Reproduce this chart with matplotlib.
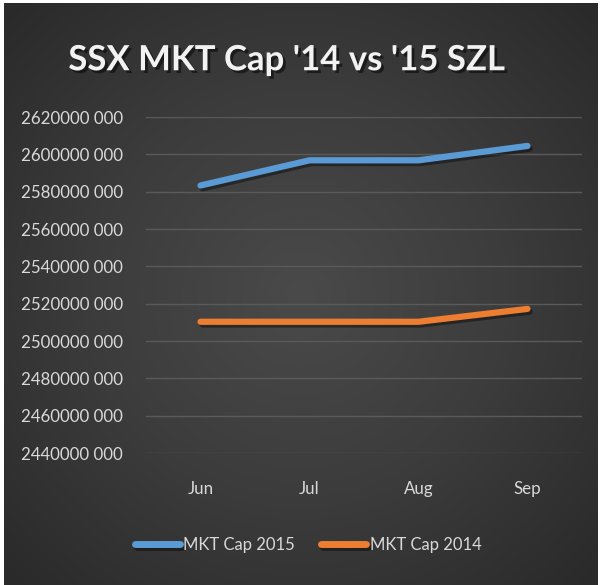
import numpy as np
import matplotlib
matplotlib.use("Agg")
import matplotlib.pyplot as plt
import matplotlib.patheffects as pe
from matplotlib.ticker import FuncFormatter

# chart data (values in SZL)
months = ["Jun", "Jul", "Aug", "Sep"]
cap_2015 = [2583300000, 2596800000, 2596800000, 2604500000]
cap_2014 = [2510300000, 2510300000, 2510300000, 2517200000]
series_names = ["MKT Cap 2015", "MKT Cap 2014"]
y_ticks = list(range(2440000000, 2620000001, 20000000))

FONT = ["Lato", "DejaVu Sans"]
BLUE = "#5B9BD5"
ORANGE = "#ED7D31"
TEXT = "#D9D9D9"

plt.rcParams["font.family"] = FONT

fig = plt.figure(figsize=(6, 5.85), dpi=100, facecolor="white")

# dark radial background
bg = fig.add_axes([4 / 600, 0, 594 / 600, 582 / 585])
yy, xx = np.mgrid[-1:1:300j, -1:1:300j]
r = np.sqrt(xx ** 2 + yy ** 2)
bg.imshow(r, cmap=matplotlib.colors.LinearSegmentedColormap.from_list(
    "bg", ["#4a4a4a", "#3c3c3c", "#2a2a2a"]), vmin=0, vmax=1.4,
    extent=[0, 1, 0, 1], aspect="auto")
bg.set_axis_off()

ax = fig.add_axes([146 / 600, 132 / 585, 436 / 600, 336 / 585])
ax.set_facecolor("none")

x = np.arange(len(months))
shadow = [pe.SimpleLineShadow(offset=(1.5, -2), shadow_color="black", alpha=0.4),
          pe.Normal()]
ax.plot(x, cap_2015, color=BLUE, lw=4.5, solid_capstyle="round",
        solid_joinstyle="round", label=series_names[0], path_effects=shadow)
ax.plot(x, cap_2014, color=ORANGE, lw=4.5, solid_capstyle="round",
        solid_joinstyle="round", label=series_names[1], path_effects=shadow)

ax.set_xlim(-0.5, len(months) - 0.5)
ax.set_ylim(y_ticks[0], y_ticks[-1])
ax.set_xticks(x)
ax.set_xticklabels(months)
ax.set_yticks(y_ticks)
ax.yaxis.set_major_formatter(FuncFormatter(
    lambda v, p: f"{int(round(v)) // 1000} {int(round(v)) % 1000:03d}"))
ax.tick_params(length=0, colors=TEXT, labelsize=12.2)
ax.tick_params(axis="x", pad=20)
ax.tick_params(axis="y", pad=16.5)
ax.grid(axis="y", color="#5a5a5a", lw=1)
ax.set_axisbelow(True)
for s in ax.spines.values():
    s.set_visible(False)

fig.text(0.478, 0.897, "SSX MKT Cap '14 vs '15 SZL", ha="center", va="center",
         fontsize=25, fontweight="bold", color="#F2F2F2",
         path_effects=[pe.withSimplePatchShadow(offset=(2, -2), shadow_rgbFace="black", alpha=0.5)])

leg = ax.legend(loc="center", bbox_to_anchor=(0.372, -0.274), ncol=2, frameon=False,
                fontsize=12, labelcolor=TEXT, handlelength=2.7, handletextpad=0.2,
                columnspacing=1.56, borderpad=0, borderaxespad=0)
for h in leg.get_lines():
    h.set_linewidth(5)
    h.set_solid_capstyle("round")

fig.savefig("out.png", dpi=100, facecolor=fig.get_facecolor())
